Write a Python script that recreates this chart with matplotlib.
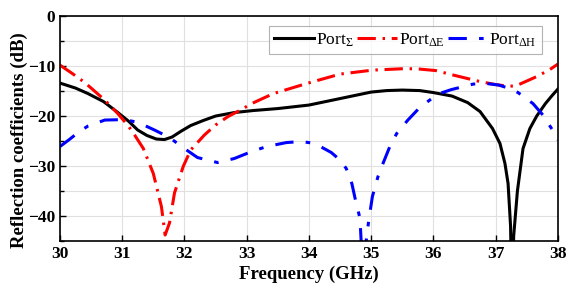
import matplotlib
matplotlib.use("Agg")
import matplotlib.pyplot as plt
from matplotlib.ticker import MultipleLocator

plt.rcParams["font.family"] = ["Liberation Serif", "DejaVu Serif"]
plt.rcParams["mathtext.fontset"] = "custom"
plt.rcParams["mathtext.rm"] = "Liberation Serif"
plt.rcParams["mathtext.it"] = "Liberation Serif:italic"
plt.rcParams["mathtext.bf"] = "Liberation Serif:bold"

# ---- data (frequency in GHz, reflection in dB) ----
f_sum = [30.0, 30.25, 30.45, 30.7, 30.9, 31.1, 31.25, 31.4, 31.55, 31.68, 31.8,
         31.95, 32.1, 32.3, 32.5, 32.8, 33.1, 33.5, 34.0, 34.5, 35.0, 35.25,
         35.5, 35.78, 36.0, 36.3, 36.55, 36.75, 36.95, 37.07, 37.15, 37.2,
         37.24, 37.265, 37.29, 37.35, 37.44, 37.55, 37.66, 37.8, 37.9, 38.0]
s_sum = [-13.4, -14.4, -15.5, -17.1, -19.0, -21.0, -22.8, -23.9, -24.6, -24.7, -24.2,
         -23.0, -21.9, -20.9, -20.0, -19.3, -18.9, -18.5, -17.8, -16.5, -15.2, -14.9,
         -14.8, -14.9, -15.3, -16.0, -17.3, -19.1, -22.5, -25.5, -29.5, -33.5,
         -42.0, -60.0, -44.0, -35.0, -26.5, -22.5, -20.0, -17.5, -16.0, -14.6]

f_de = [30.0, 30.2, 30.4, 30.72, 30.93, 31.1, 31.2, 31.34, 31.5, 31.63, 31.69,
        31.76, 31.84, 31.98, 32.1, 32.32, 32.5, 32.7, 32.9, 33.08, 33.43, 33.96,
        34.5, 35.03, 35.56, 35.78, 36.04, 36.32, 36.75, 37.0, 37.18, 37.3, 37.39,
        37.66, 37.87, 38.0]
s_de = [-9.8, -11.5, -13.3, -16.8, -19.5, -22.0, -23.8, -26.5, -31.5, -38.1, -43.8,
        -41.4, -35.4, -30.1, -26.8, -23.8, -21.8, -20.1, -18.8, -17.5, -15.5, -13.5,
        -11.6, -10.8, -10.5, -10.6, -10.9, -11.8, -13.1, -13.7, -14.0, -14.0, -13.6,
        -12.1, -10.7, -9.6]

f_dh = [30.0, 30.15, 30.3, 30.45, 30.72, 31.04, 31.26, 31.52, 31.76, 32.0, 32.21,
        32.53, 32.8, 33.08, 33.32, 33.64, 33.88, 34.05, 34.17, 34.36, 34.5, 34.6,
        34.69, 34.76, 34.82, 34.86, 34.91, 34.96, 35.02, 35.11, 35.19, 35.3, 35.41,
        35.59, 35.78, 36.07, 36.29, 36.64, 36.86, 37.05, 37.23, 37.36, 37.6, 37.76,
        37.95, 38.0]
s_dh = [-26.1, -24.7, -23.2, -22.0, -20.8, -20.7, -21.3, -22.8, -24.3, -26.5, -28.3,
        -29.3, -28.5, -27.1, -26.1, -25.3, -25.1, -25.4, -26.0, -27.3, -28.8, -30.5,
        -33.5, -37.5, -40.4, -50.0, -46.0, -41.0, -36.1, -32.1, -29.5, -26.1, -23.5,
        -20.8, -18.3, -15.6, -14.7, -13.6, -13.5, -13.8, -14.5, -15.3, -17.5, -19.8,
        -23.5, -24.8]

labels = [r"Port$_{\Sigma}$", r"Port$_{\Delta\mathrm{E}}$", r"Port$_{\Delta\mathrm{H}}$"]

fig = plt.figure(figsize=(5.71, 2.93), dpi=100)
ax = fig.add_axes([0.105, 0.1775, 0.872, 0.7675])

lw = 2.2
ax.plot(f_sum, s_sum, color="black", lw=lw, label=labels[0])
ax.plot(f_de, s_de, color="red", lw=lw, ls=(0, (6, 2.2, 0.8, 2.2)), label=labels[1])
ax.plot(f_dh, s_dh, color="blue", lw=lw, ls=(0, (6, 4, 1.5, 4)), label=labels[2])

ax.set_xlim(30, 38)
ax.set_ylim(-45, 0)
ax.xaxis.set_major_locator(MultipleLocator(1))
ax.yaxis.set_major_locator(MultipleLocator(10))
ax.yaxis.set_minor_locator(MultipleLocator(5))
ax.grid(True, which="both", color="#e0e0e0", lw=0.8)
ax.set_axisbelow(True)
ax.tick_params(which="both", direction="in", top=False, right=False,
               labelsize=12.5, width=1.0)
ax.tick_params(which="major", length=4)
ax.tick_params(which="minor", length=3)
for lab in ax.get_xticklabels() + ax.get_yticklabels():
    lab.set_fontweight("bold")
for sp in ax.spines.values():
    sp.set_linewidth(1.2)

ax.set_xlabel("Frequency (GHz)", fontsize=13.5, fontweight="bold", labelpad=3)
ax.set_ylabel("Reflection coefficients (dB)", fontsize=13.5, fontweight="bold", labelpad=2)
ax.yaxis.set_label_coords(-0.064, 0.45)

leg = ax.legend(loc="upper right", bbox_to_anchor=(0.975, 0.97), ncol=3,
                fontsize=12.5, frameon=True, fancybox=False, edgecolor="#a0a0a0",
                handlelength=2.3, handletextpad=0.1, columnspacing=0.2,
                borderpad=0.3, borderaxespad=0.2)
leg.get_frame().set_linewidth(0.8)

fig.savefig("out.png", dpi=100)
